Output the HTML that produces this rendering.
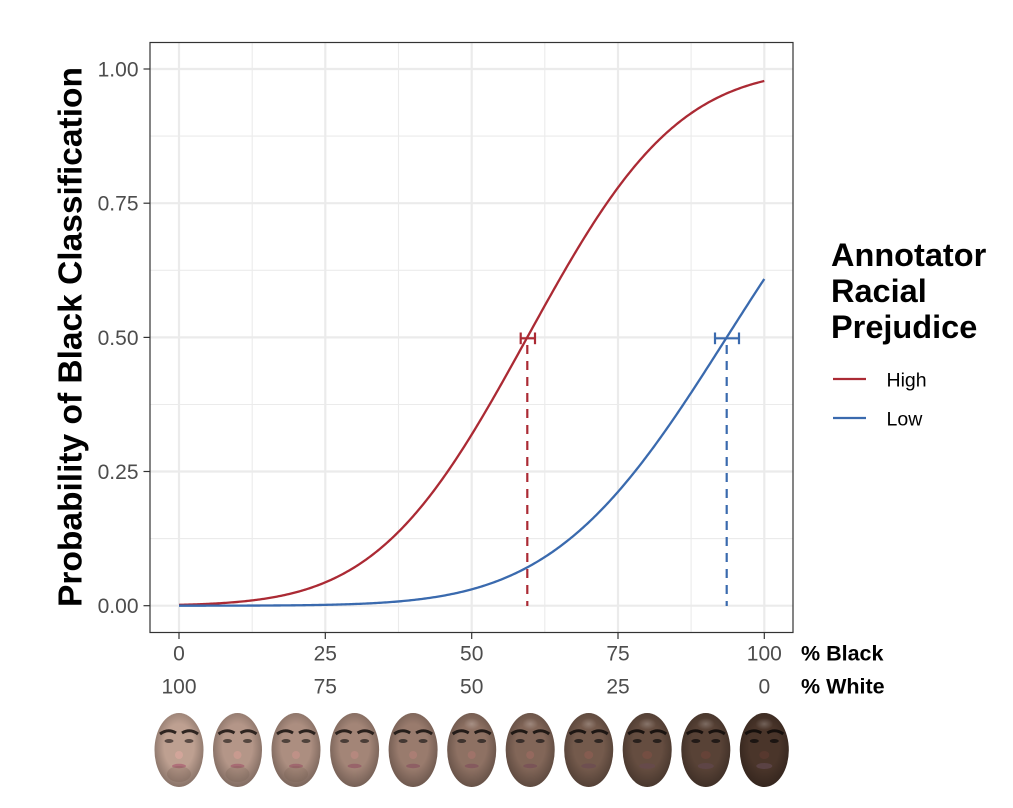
<!DOCTYPE html>
<html><head><meta charset="utf-8"><style>
html,body{margin:0;padding:0;background:#fff;}
svg{display:block;}
text{font-family:"Liberation Sans",Arial,sans-serif;}
</style></head><body>
<svg width="1013" height="808" viewBox="0 0 1013 808" xmlns="http://www.w3.org/2000/svg">
<defs>
<radialGradient id="shade" cx="0.5" cy="0.45" r="0.55">
<stop offset="0.55" stop-color="#000" stop-opacity="0"/>
<stop offset="1" stop-color="#000" stop-opacity="0.28"/>
</radialGradient>
<radialGradient id="hi" cx="0.5" cy="0.5" r="0.5">
<stop offset="0" stop-color="#fff" stop-opacity="0.22"/>
<stop offset="1" stop-color="#fff" stop-opacity="0"/>
</radialGradient>
<clipPath id="pc"><rect x="150" y="42.5" width="643" height="590"/></clipPath>
</defs>
<rect width="1013" height="808" fill="#fff"/>
<!-- minor grid -->
<g stroke="#ebebeb" stroke-width="1.1">
<line x1="252.2" y1="42.5" x2="252.2" y2="632.5"/>
<line x1="398.5" y1="42.5" x2="398.5" y2="632.5"/>
<line x1="544.8" y1="42.5" x2="544.8" y2="632.5"/>
<line x1="691.1" y1="42.5" x2="691.1" y2="632.5"/>
<line x1="150" y1="538.6" x2="793" y2="538.6"/>
<line x1="150" y1="404.5" x2="793" y2="404.5"/>
<line x1="150" y1="270.3" x2="793" y2="270.3"/>
<line x1="150" y1="136.1" x2="793" y2="136.1"/>
</g>
<!-- major grid -->
<g stroke="#ebebeb" stroke-width="2.2">
<line x1="179" y1="42.5" x2="179" y2="632.5"/>
<line x1="325.3" y1="42.5" x2="325.3" y2="632.5"/>
<line x1="471.7" y1="42.5" x2="471.7" y2="632.5"/>
<line x1="618" y1="42.5" x2="618" y2="632.5"/>
<line x1="764.3" y1="42.5" x2="764.3" y2="632.5"/>
<line x1="150" y1="605.7" x2="793" y2="605.7"/>
<line x1="150" y1="471.5" x2="793" y2="471.5"/>
<line x1="150" y1="337.4" x2="793" y2="337.4"/>
<line x1="150" y1="203.2" x2="793" y2="203.2"/>
<line x1="150" y1="69" x2="793" y2="69"/>
</g>
<g clip-path="url(#pc)" fill="none" stroke-linejoin="round" stroke-linecap="butt">
<line x1="527.3" y1="345" x2="527.3" y2="606" stroke="#ab2a34" stroke-width="2.2" stroke-dasharray="9 7"/>
<line x1="726.7" y1="345" x2="726.7" y2="606" stroke="#3a6aae" stroke-width="2.2" stroke-dasharray="9 7"/>
<polyline id="redc" stroke="#ab2a34" stroke-width="2.3" points="179,604.85 208.3,603.85 237.5,601.92 266.8,598.37 296.1,592.26 325.3,582.35 354.6,567.22 383.9,545.48 413.1,516.18 442.4,479.0 471.7,434.6 500.9,384.7 530.2,332.0 559.4,279.6 588.7,230.7 618.0,187.6 647.2,152.0 676.5,124.2 705.8,103.9 735.0,90.0 764.3,81.0"/>
<polyline id="bluec" stroke="#3a6aae" stroke-width="2.3" points="179,605.68 208.3,605.66 237.5,605.61 266.8,605.5 296.1,605.28 325.3,604.85 354.6,604.02 383.9,602.54 413.1,600.01 442.4,595.85 471.7,589.33 500.9,579.62 530.2,565.77 559.4,546.93 588.7,522.35 618.0,491.87 647.2,455.64 676.5,414.58 705.8,370.19 735.0,324.31 764.3,279.0"/>
<g stroke="#ab2a34" stroke-width="2.2">
<line x1="520.7" y1="338.3" x2="535" y2="338.3"/>
<line x1="520.7" y1="332.5" x2="520.7" y2="344.2"/>
<line x1="535" y1="332.5" x2="535" y2="344.2"/>
</g>
<g stroke="#3a6aae" stroke-width="2.2">
<line x1="715" y1="338.3" x2="739" y2="338.3"/>
<line x1="715" y1="332.5" x2="715" y2="344.2"/>
<line x1="739" y1="332.5" x2="739" y2="344.2"/>
</g>
</g>
<rect x="150" y="42.5" width="643" height="590" fill="none" stroke="#333" stroke-width="1.2"/>
<g stroke="#333" stroke-width="1.2">
<line x1="143.5" y1="605.7" x2="150" y2="605.7"/>
<line x1="143.5" y1="471.5" x2="150" y2="471.5"/>
<line x1="143.5" y1="337.4" x2="150" y2="337.4"/>
<line x1="143.5" y1="203.2" x2="150" y2="203.2"/>
<line x1="143.5" y1="69" x2="150" y2="69"/>
<line x1="179" y1="632.5" x2="179" y2="639"/>
<line x1="325.3" y1="632.5" x2="325.3" y2="639"/>
<line x1="471.7" y1="632.5" x2="471.7" y2="639"/>
<line x1="618" y1="632.5" x2="618" y2="639"/>
<line x1="764.3" y1="632.5" x2="764.3" y2="639"/>
</g>
<g font-size="21" fill="#4d4d4d" text-anchor="end">
<text x="138.5" y="613.2">0.00</text>
<text x="138.5" y="479">0.25</text>
<text x="138.5" y="344.9">0.50</text>
<text x="138.5" y="210.7">0.75</text>
<text x="138.5" y="76.5">1.00</text>
</g>
<g font-size="21" fill="#4d4d4d" text-anchor="middle">
<text x="179" y="660.5">0</text>
<text x="325.3" y="660.5">25</text>
<text x="471.7" y="660.5">50</text>
<text x="618" y="660.5">75</text>
<text x="764.3" y="660.5">100</text>
<text x="179" y="693.5">100</text>
<text x="325.3" y="693.5">75</text>
<text x="471.7" y="693.5">50</text>
<text x="618" y="693.5">25</text>
<text x="764.3" y="693.5">0</text>
</g>
<g font-size="21.5" font-weight="bold" fill="#000">
<text x="801" y="660.5">% Black</text>
<text x="801" y="693.5">% White</text>
</g>
<text transform="translate(81.5,337) rotate(-90)" text-anchor="middle" font-size="33.5" font-weight="bold" fill="#000">Probability of Black Classification</text>
<g font-size="32.5" font-weight="bold" fill="#000">
<text x="831" y="266">Annotator</text>
<text x="831" y="302">Racial</text>
<text x="831" y="338">Prejudice</text>
</g>
<line x1="833" y1="379" x2="866" y2="379" stroke="#ab2a34" stroke-width="2.3"/>
<line x1="833" y1="418" x2="866" y2="418" stroke="#3a6aae" stroke-width="2.3"/>
<g font-size="19.5" fill="#000">
<text x="886.5" y="386.5">High</text>
<text x="886.5" y="425.5">Low</text>
</g>
<g id="faces">
<g transform="translate(179,750)">
<ellipse rx="24.5" ry="37" fill="rgb(190,160,145)"/><ellipse rx="24.5" ry="37" fill="url(#shade)"/>
<path d="M-19,-16 Q-11,-22 -3,-17 M19,-16 Q11,-22 3,-17" stroke="#2e2420" stroke-width="3" fill="none"/>
<ellipse cx="-10" cy="-9" rx="4.5" ry="2" fill="#5a4a44"/><ellipse cx="10" cy="-9" rx="4.5" ry="2" fill="#5a4a44"/>
<ellipse cx="0" cy="5" rx="4" ry="4" fill="#d2a59a"/>
<ellipse cx="0" cy="16" rx="7" ry="2.2" fill="#b0707a"/>
<ellipse cx="0" cy="24" rx="12" ry="8" fill="#6a5548" opacity="0.25"/>
</g>
<g transform="translate(237.5,750)">
<ellipse rx="24.5" ry="37" fill="rgb(180,150,136)"/><ellipse rx="24.5" ry="37" fill="url(#shade)"/>
<path d="M-19,-16 Q-11,-22 -3,-17 M19,-16 Q11,-22 3,-17" stroke="#2e2420" stroke-width="3" fill="none"/>
<ellipse cx="-10" cy="-9" rx="4.5" ry="2" fill="#54463f"/><ellipse cx="10" cy="-9" rx="4.5" ry="2" fill="#54463f"/>
<ellipse cx="0" cy="5" rx="4" ry="4" fill="#c89a8f"/>
<ellipse cx="0" cy="16" rx="7" ry="2.2" fill="#a86c74"/>
<ellipse cx="0" cy="24" rx="12" ry="8" fill="#6a5548" opacity="0.22"/>
</g>
<g transform="translate(296,750)">
<ellipse rx="24.5" ry="37" fill="rgb(172,142,128)"/><ellipse rx="24.5" ry="37" fill="url(#shade)"/>
<path d="M-19,-16 Q-11,-22 -3,-17 M19,-16 Q11,-22 3,-17" stroke="#2b221e" stroke-width="3" fill="none"/>
<ellipse cx="-10" cy="-9" rx="4.5" ry="2" fill="#4f423b"/><ellipse cx="10" cy="-9" rx="4.5" ry="2" fill="#4f423b"/>
<ellipse cx="0" cy="5" rx="4" ry="4" fill="#bf9187"/>
<ellipse cx="0" cy="16" rx="7" ry="2.2" fill="#a0686f"/>
<ellipse cx="0" cy="24" rx="12" ry="8" fill="#6a5548" opacity="0.2"/>
</g>
<g transform="translate(354.6,750)">
<ellipse rx="24.5" ry="37" fill="rgb(163,133,119)"/><ellipse rx="24.5" ry="37" fill="url(#shade)"/>
<path d="M-19,-16 Q-11,-22 -3,-17 M19,-16 Q11,-22 3,-17" stroke="#29201c" stroke-width="3" fill="none"/>
<ellipse cx="-10" cy="-9" rx="4.5" ry="2" fill="#4a3d37"/><ellipse cx="10" cy="-9" rx="4.5" ry="2" fill="#4a3d37"/>
<ellipse cx="0" cy="5" rx="4" ry="4" fill="#b5887e"/>
<ellipse cx="0" cy="16" rx="7" ry="2.2" fill="#98646a"/>
</g>
<g transform="translate(413.1,750)">
<ellipse rx="24.5" ry="37" fill="rgb(153,123,109)"/><ellipse rx="24.5" ry="37" fill="url(#shade)"/>
<path d="M-19,-16 Q-11,-22 -3,-17 M19,-16 Q11,-22 3,-17" stroke="#261e1a" stroke-width="3" fill="none"/>
<ellipse cx="-10" cy="-9" rx="4.5" ry="2" fill="#443833"/><ellipse cx="10" cy="-9" rx="4.5" ry="2" fill="#443833"/>
<ellipse cx="0" cy="5" rx="4" ry="4" fill="#aa7e74"/>
<ellipse cx="0" cy="16" rx="7" ry="2.2" fill="#8e5f64"/>
</g>
<g transform="translate(471.7,750)">
<ellipse rx="24.5" ry="37" fill="rgb(142,113,99)"/><ellipse rx="24.5" ry="37" fill="url(#shade)"/>
<ellipse cx="0" cy="-26" rx="8" ry="6" fill="url(#hi)"/>
<path d="M-19,-16 Q-11,-22 -3,-17 M19,-16 Q11,-22 3,-17" stroke="#231b18" stroke-width="3" fill="none"/>
<ellipse cx="-10" cy="-9" rx="4.5" ry="2" fill="#3e332e"/><ellipse cx="10" cy="-9" rx="4.5" ry="2" fill="#3e332e"/>
<ellipse cx="0" cy="5" rx="4" ry="4" fill="#9f7369"/>
<ellipse cx="0" cy="16" rx="7" ry="2.2" fill="#855a5e"/>
</g>
<g transform="translate(530.2,750)">
<ellipse rx="24.5" ry="37" fill="rgb(130,102,88)"/><ellipse rx="24.5" ry="37" fill="url(#shade)"/>
<ellipse cx="0" cy="-26" rx="8" ry="6" fill="url(#hi)"/>
<path d="M-19,-16 Q-11,-22 -3,-17 M19,-16 Q11,-22 3,-17" stroke="#201915" stroke-width="3" fill="none"/>
<ellipse cx="-10" cy="-9" rx="4.5" ry="2" fill="#382d29"/><ellipse cx="10" cy="-9" rx="4.5" ry="2" fill="#382d29"/>
<ellipse cx="0" cy="5" rx="4" ry="4" fill="#94695e"/>
<ellipse cx="0" cy="16" rx="7" ry="2.2" fill="#7a5457"/>
</g>
<g transform="translate(588.7,750)">
<ellipse rx="24.5" ry="37" fill="rgb(116,90,76)"/><ellipse rx="24.5" ry="37" fill="url(#shade)"/>
<ellipse cx="0" cy="-26" rx="8" ry="6" fill="url(#hi)"/>
<path d="M-19,-16 Q-11,-22 -3,-17 M19,-16 Q11,-22 3,-17" stroke="#1d1613" stroke-width="3" fill="none"/>
<ellipse cx="-10" cy="-9" rx="4.5" ry="2" fill="#2f2622"/><ellipse cx="10" cy="-9" rx="4.5" ry="2" fill="#2f2622"/>
<ellipse cx="0" cy="5" rx="4.5" ry="4" fill="#855c50"/>
<ellipse cx="0" cy="16" rx="7.5" ry="2.5" fill="#6e4f50"/>
</g>
<g transform="translate(647.2,750)">
<ellipse rx="24.5" ry="37" fill="rgb(101,77,64)"/><ellipse rx="24.5" ry="37" fill="url(#shade)"/>
<ellipse cx="0" cy="-26" rx="9" ry="6" fill="url(#hi)"/>
<path d="M-19,-16 Q-11,-22 -3,-17 M19,-16 Q11,-22 3,-17" stroke="#1a1310" stroke-width="3" fill="none"/>
<ellipse cx="-10" cy="-9" rx="4.5" ry="2" fill="#28201c"/><ellipse cx="10" cy="-9" rx="4.5" ry="2" fill="#28201c"/>
<ellipse cx="0" cy="5" rx="5" ry="4" fill="#744e42"/>
<ellipse cx="0" cy="16" rx="8" ry="2.8" fill="#664a4a"/>
</g>
<g transform="translate(705.8,750)">
<ellipse rx="24.5" ry="37" fill="rgb(88,66,54)"/><ellipse rx="24.5" ry="37" fill="url(#shade)"/>
<ellipse cx="0" cy="-26" rx="9" ry="6" fill="url(#hi)"/>
<path d="M-19,-16 Q-11,-22 -3,-17 M19,-16 Q11,-22 3,-17" stroke="#18110e" stroke-width="3" fill="none"/>
<ellipse cx="-10" cy="-9" rx="4.5" ry="2" fill="#221a17"/><ellipse cx="10" cy="-9" rx="4.5" ry="2" fill="#221a17"/>
<ellipse cx="0" cy="5" rx="5" ry="4" fill="#664338"/>
<ellipse cx="0" cy="16" rx="8" ry="3" fill="#5e4546"/>
</g>
<g transform="translate(764.3,750)">
<ellipse rx="24.5" ry="37" fill="rgb(74,53,42)"/><ellipse rx="24.5" ry="37" fill="url(#shade)"/>
<ellipse cx="0" cy="-26" rx="9" ry="6" fill="url(#hi)"/>
<path d="M-19,-16 Q-11,-22 -3,-17 M19,-16 Q11,-22 3,-17" stroke="#150f0c" stroke-width="3" fill="none"/>
<ellipse cx="-10" cy="-9" rx="4.5" ry="2" fill="#1c1512"/><ellipse cx="10" cy="-9" rx="4.5" ry="2" fill="#1c1512"/>
<ellipse cx="0" cy="5" rx="5" ry="4" fill="#57382e"/>
<ellipse cx="0" cy="16" rx="8" ry="3" fill="#5a4244"/>
</g>
</g>
</svg>
<script>
(function(){
  function erf(x){var s=x<0?-1:1;x=Math.abs(x);var t=1/(1+0.3275911*x);
    var y=1-(((((1.061405429*t-1.453152027)*t)+1.421413741)*t-0.284496736)*t+0.254829592)*t*Math.exp(-x*x);return s*y;}
  function Phi(z){return 0.5*(1+erf(z/Math.SQRT2));}
  function pts(c,s){var a=[];for(var i=0;i<=400;i++){var x=i/4;var p=Phi((x-c)*s);
    a.push((179+5.853*x).toFixed(2)+","+(605.7-536.7*p).toFixed(2));}return a.join(" ");}
  document.getElementById("redc").setAttribute("points",pts(59.5,0.0496));
  document.getElementById("bluec").setAttribute("points",pts(93.58,0.043));
})();
</script>
</body></html>
